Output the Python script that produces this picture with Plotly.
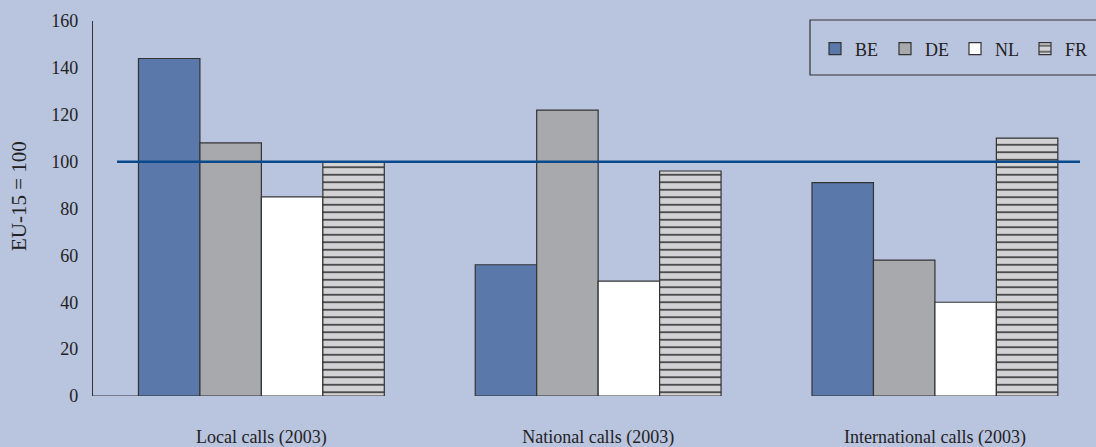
import plotly.graph_objects as go

# Price index per call type, EU-15 average = 100
categories = ["Local calls (2003)", "National calls (2003)", "International calls (2003)"]
countries = ["BE", "DE", "NL", "FR"]
be_values = [144, 56, 91]
de_values = [108, 122, 58]
nl_values = [85, 49, 40]
fr_values = [100, 96, 110]
eu_average = 100
y_ticks = [0, 20, 40, 60, 80, 100, 120, 140, 160]

series = {"BE": be_values, "DE": de_values, "NL": nl_values, "FR": fr_values}
fills = {"BE": "#5B78AA", "DE": "#A8A9AD", "NL": "#FFFFFF", "FR": "#D2D2D4"}

BG = "#B9C4DE"
EDGE = "#333333"
FONT = "Liberation Serif"
TXT = "#222222"

W, H = 1096, 447
ML, MR, MT, MB = 93, 12, 21, 51
PW, PH = W - ML - MR, H - MT - MB


def px_x(p):
    return (p - ML) / PW


def px_y(p):
    return (H - MB - p) / PH


fig = go.Figure()
for c in countries:
    marker = dict(color=fills[c], line=dict(color=EDGE, width=1.2))
    if c == "FR":
        marker["pattern"] = dict(shape="-", size=7.5, solidity=0.2,
                                 fgcolor="#2A2A2A", bgcolor=fills[c],
                                 fillmode="replace")
    fig.add_trace(go.Bar(name=c, x=categories, y=series[c], marker=marker))

# EU-15 reference level
fig.add_shape(type="line", xref="paper", yref="y", x0=px_x(117), x1=px_x(1080),
              y0=eu_average, y1=eu_average, layer="above",
              line=dict(color="#0A4A8C", width=2.5))

# short baseline between the value axis and the first bar
fig.add_shape(type="line", xref="x", yref="y", x0=-0.5, x1=-0.365,
              y0=0, y1=0, layer="above", line=dict(color=EDGE, width=1.2))

# legend frame
fig.add_shape(type="rect", xref="paper", yref="paper", x0=px_x(810), x1=px_x(1110),
              y0=px_y(75), y1=px_y(20), line=dict(color=EDGE, width=1.2),
              fillcolor="rgba(0,0,0,0)")

fig.add_annotation(text="EU-15 = 100", xref="paper", yref="paper",
                   x=px_x(19), y=px_y(196), textangle=-90,
                   xanchor="center", yanchor="middle",
                   showarrow=False, font=dict(family=FONT, size=21, color=TXT))

fig.update_layout(
    width=W, height=H,
    margin=dict(l=ML, r=MR, t=MT, b=MB, autoexpand=False),
    paper_bgcolor=BG, plot_bgcolor=BG,
    barmode="group", bargap=0.27, bargroupgap=0,
    font=dict(family=FONT, size=18, color=TXT),
    showlegend=True,
    legend=dict(orientation="h", x=px_x(1095), y=px_y(49), xanchor="right", yanchor="middle",
                bgcolor="rgba(0,0,0,0)", borderwidth=0,
                font=dict(family=FONT, size=18, color=TXT),
                entrywidth=25, entrywidthmode="pixels", traceorder="normal"),
    xaxis=dict(range=[-0.5, (W - MR - 261.3) / 336.8], showgrid=False, zeroline=False,
               showline=False, ticks="", ticklabelstandoff=28, tickfont=dict(size=18),
               automargin=False),
    yaxis=dict(range=[0, 160], tickvals=y_ticks, showgrid=False, zeroline=False,
               showline=True, linecolor=EDGE, linewidth=1.2, ticks="",
               ticklabelstandoff=10, tickfont=dict(size=18), automargin=False),
)

fig.write_html("out.html")
